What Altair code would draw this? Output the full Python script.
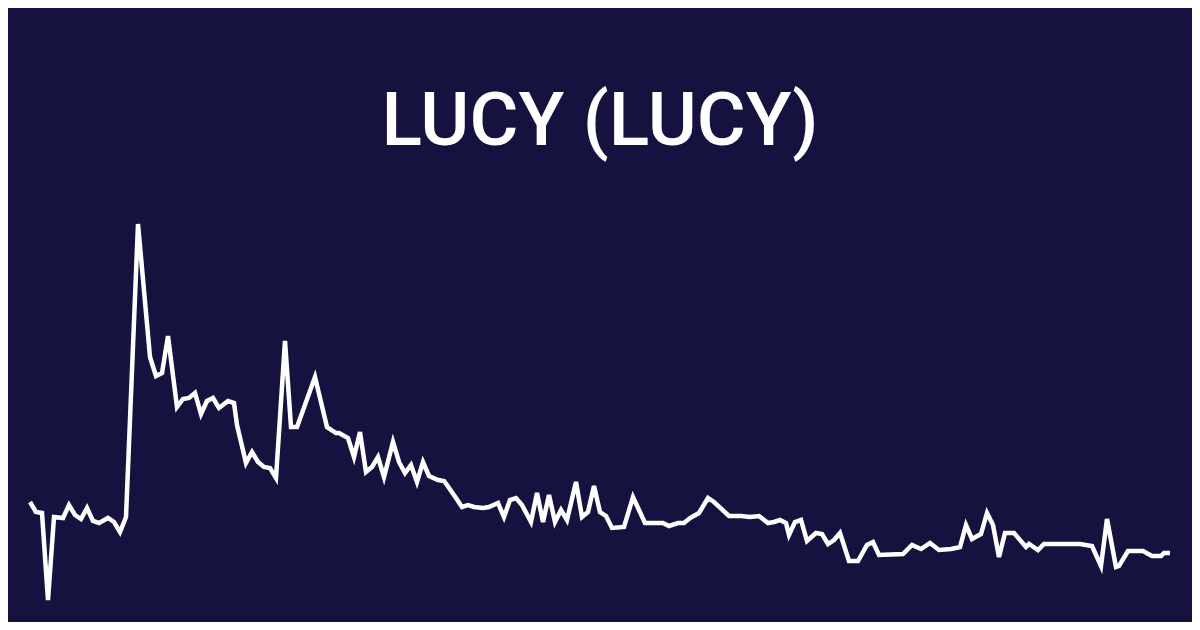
import altair as alt
import pandas as pd

title_text = ["LUCY (LUCY)"]

days = [0, 2, 4, 6, 8, 11, 13, 15, 17, 19, 21, 23, 26, 28, 30, 32, 36, 40, 42, 44,
        46, 49, 51, 53, 55, 57, 59, 61, 63, 66, 68, 69, 72, 74, 76, 78, 80, 82, 85, 87,
        89, 95, 99, 102, 103, 106, 108, 110, 112, 114, 116, 118, 121, 123, 125, 127, 129, 131, 133, 136,
        138, 139, 142, 144, 146, 148, 151, 153, 156, 158, 160, 162, 164, 167, 169, 171, 173, 175, 177, 179,
        182, 184, 186, 188, 190, 192, 194, 198, 201, 203, 205, 208, 211, 213, 216, 218, 220, 223, 226, 228,
        233, 237, 240, 243, 246, 248, 250, 252, 253, 255, 257, 259, 262, 264, 266, 268, 270, 273, 276, 279,
        281, 283, 291, 294, 297, 300, 303, 307, 310, 312, 314, 317, 319, 321, 323, 325, 328, 332, 333, 336,
        338, 350, 354, 357, 359, 362, 363, 366, 371, 374, 377, 378, 380]

prices = [0.0108, 0.0098, 0.0097, 0.0010, 0.0093, 0.0092, 0.0105, 0.0095, 0.0091, 0.0102,
          0.0089, 0.0087, 0.0092, 0.0088, 0.0078, 0.0093, 0.0386, 0.0253, 0.0234, 0.0237,
          0.0274, 0.0203, 0.0211, 0.0212, 0.0217, 0.0196, 0.0209, 0.0212, 0.0202, 0.0209,
          0.0207, 0.0185, 0.0147, 0.0158, 0.0148, 0.0143, 0.0142, 0.0132, 0.0269, 0.0183,
          0.0183, 0.0233, 0.0183, 0.0177, 0.0177, 0.0172, 0.0153, 0.0178, 0.0138, 0.0143,
          0.0153, 0.0133, 0.0168, 0.0148, 0.0137, 0.0145, 0.0128, 0.0148, 0.0134, 0.0130,
          0.0129, 0.0125, 0.0112, 0.0103, 0.0105, 0.0103, 0.0102, 0.0103, 0.0107, 0.0093,
          0.0110, 0.0112, 0.0105, 0.0088, 0.0117, 0.0088, 0.0115, 0.0088, 0.0100, 0.0090,
          0.0128, 0.0093, 0.0098, 0.0124, 0.0098, 0.0094, 0.0082, 0.0083, 0.0113, 0.0100,
          0.0087, 0.0087, 0.0087, 0.0084, 0.0087, 0.0087, 0.0092, 0.0097, 0.0112, 0.0108,
          0.0094, 0.0094, 0.0093, 0.0094, 0.0087, 0.0088, 0.0090, 0.0087, 0.0075, 0.0088,
          0.0090, 0.0069, 0.0077, 0.0076, 0.0066, 0.0070, 0.0077, 0.0049, 0.0049, 0.0065,
          0.0068, 0.0055, 0.0056, 0.0065, 0.0061, 0.0067, 0.0060, 0.0061, 0.0063, 0.0085,
          0.0071, 0.0076, 0.0097, 0.0085, 0.0053, 0.0077, 0.0077, 0.0063, 0.0066, 0.0060,
          0.0066, 0.0066, 0.0064, 0.0044, 0.0091, 0.0043, 0.0044, 0.0059, 0.0059, 0.0054,
          0.0054, 0.0057, 0.0057]

bg = "#151240"

df = pd.DataFrame({"day": days, "price": prices})
tdf = pd.DataFrame({"label": title_text})

line = alt.Chart(df).mark_line(color="white", strokeWidth=4.5, strokeJoin="miter").encode(
    x=alt.X("day:Q", axis=None, scale=alt.Scale(domain=[0, 380], range=[22, 1162])),
    y=alt.Y("price:Q", axis=None, scale=alt.Scale(domain=[0, 0.06], range=[602, 2])),
)

title = alt.Chart(tdf).mark_text(
    color="white", font="Roboto", fontWeight=500, fontSize=75,
    align="center", baseline="alphabetic"
).encode(
    x=alt.value(592),
    y=alt.value(137),
    text="label:N",
)

chart = alt.layer(line, title).properties(
    width=1184, height=614, background=bg, padding=0,
    autosize=alt.AutoSizeParams(type="none"),
).configure_view(stroke=None)

chart.save("out.html", embed_options={"renderer": "svg", "actions": False})
